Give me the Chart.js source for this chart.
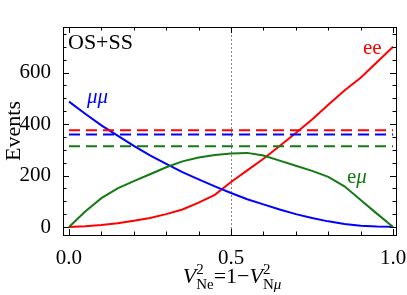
<!DOCTYPE html>
<html><head><meta charset="utf-8">
<script src="https://cdn.jsdelivr.net/npm/chart.js@4/dist/chart.umd.min.js"></script>
<style>html,body{margin:0;padding:0;background:#fff}canvas{display:block}</style>
</head><body>
<canvas id="c" width="407" height="295"></canvas>
<script>
const xs = [0,0.05,0.1,0.15,0.2,0.25,0.3,0.35,0.4,0.45,0.5,0.55,0.6,0.65,0.7,0.75,0.8,0.85,0.9,0.95,1.0];
const eeEvents   = [0,3,8,15,24,35,50,68,95,125,175,220,265,315,365,418,475,530,580,640,700];
const mumuEvents = [487,440,395,355,315,278,245,213,185,158,132,108,88,68,50,35,22,12,5,2,1];
const emuEvents  = [0,60,112,150,178,205,232,255,270,280,286,288,278,258,238,218,195,158,105,52,0];
const eeTotal = 376, mumuTotal = 359, emuTotal = 314;
const xTickValues = [0,0.5,1.0];
const yTickValues = [0,200,400,600];
const xMinorTicks = [0,0.1,0.2,0.3,0.4,0.5,0.6,0.7,0.8,0.9,1.0];
const yMinorTicks = [0,50,100,150,200,250,300,350,400,450,500,550,600,650,700,750];
const midLine = 0.5;

const RED='#ff0000', BLUE='#0000ff', GREEN='#147a14';
const FONT='"Liberation Serif", "DejaVu Serif", serif';

function curve(vals,color){
  return {data: xs.map((x,i)=>({x:x,y:vals[i]})), borderColor:color, borderWidth:2, pointRadius:0, fill:false, tension:0};
}
function flat(v,color){
  return {data:[{x:xs[0],y:v},{x:xs[xs.length-1],y:v}], borderColor:color, borderWidth:2, borderDash:[11,6], pointRadius:0, fill:false};
}

const framePlugin = {
  id:'frame',
  beforeDatasetsDraw(chart){
    const {ctx, chartArea:{top,bottom}, scales:{x}} = chart;
    const px = Math.round(x.getPixelForValue(midLine))+0.5;
    ctx.save(); ctx.strokeStyle='#888'; ctx.lineWidth=1; ctx.setLineDash([2,2]);
    ctx.beginPath(); ctx.moveTo(px,top); ctx.lineTo(px,bottom); ctx.stroke(); ctx.restore();
  },
  afterDatasetsDraw(chart){
    const {ctx, chartArea:{left,right,top,bottom}, scales:{x,y}} = chart;
    ctx.save(); ctx.strokeStyle='#000'; ctx.lineWidth=1;
    ctx.strokeRect(Math.round(left)+0.5, Math.round(top)+0.5, Math.round(right-left), Math.round(bottom-top));
    ctx.beginPath();
    xMinorTicks.forEach(v=>{
      const p = Math.round(x.getPixelForValue(v))+0.5;
      const L = xTickValues.includes(v)?6:3.5;
      ctx.moveTo(p,bottom); ctx.lineTo(p,bottom-L);
      ctx.moveTo(p,top); ctx.lineTo(p,top+L);
    });
    yMinorTicks.forEach(v=>{
      const p = Math.round(y.getPixelForValue(v))+0.5;
      const L = yTickValues.includes(v)?6:3.5;
      ctx.moveTo(left,p); ctx.lineTo(left+L,p);
      ctx.moveTo(right,p); ctx.lineTo(right-L,p);
    });
    ctx.stroke(); ctx.restore();
  },
  afterDraw(chart){
    const {ctx} = chart;
    ctx.save();
    ctx.textBaseline='alphabetic';
    ctx.fillStyle='#000'; ctx.font='22px '+FONT; ctx.fillText('OS+SS',68,49);
    ctx.font='21px '+FONT;
    ctx.fillStyle=RED; ctx.fillText('ee',363,54);
    ctx.fillStyle=BLUE; ctx.font='italic 21px '+FONT; ctx.fillText('μμ',87,103);
    ctx.fillStyle=GREEN; ctx.font='21px '+FONT; ctx.fillText('e',347,183);
    let w = ctx.measureText('e').width; ctx.font='italic 21px '+FONT; ctx.fillText('μ',347+w,183);
    ctx.fillStyle='#000'; ctx.font='22px '+FONT;
    ctx.save(); ctx.translate(20,131); ctx.rotate(-Math.PI/2); ctx.textAlign='center'; ctx.fillText('Events',0,0); ctx.restore();
    const parts=[
      {t:'V',f:'italic 22px',dy:0},{t:'2',f:'15px',dy:-9,sup:true},{t:'Ne',f:'15px',dy:6,sub:true},
      {t:'=1−',f:'22px',dy:0},
      {t:'V',f:'italic 22px',dy:0},{t:'2',f:'15px',dy:-9,sup:true},{t:'N',f:'15px',dy:6,sub:true},{t:'μ',f:'italic 15px',dy:6,sub:true,cont:true}
    ];
    function layout(draw,x0,base){
      let x=x0, supStart=null, supW=0;
      parts.forEach(p=>{
        ctx.font=p.f+' '+FONT;
        const pw=ctx.measureText(p.t).width;
        if(p.sup){ supStart=x; if(draw) ctx.fillText(p.t,x,base+p.dy); supW=pw; }
        else if(p.sub){
          if(!p.cont && supStart!==null){ x=supStart; }
          if(draw) ctx.fillText(p.t,x,base+p.dy);
          x+=pw;
        } else {
          if(supStart!==null){ x=Math.max(x,supStart+supW); supStart=null; }
          if(draw) ctx.fillText(p.t,x,base+p.dy); x+=pw;
        }
      });
      if(supStart!==null){ x=Math.max(x,supStart+supW); }
      return x-x0;
    }
    const tw=layout(false,0,0);
    layout(true,232-tw/2,283);
    ctx.restore();
  }
};

new Chart(document.getElementById('c'),{
  type:'line',
  data:{datasets:[
    flat(eeTotal,RED), flat(mumuTotal,BLUE), flat(emuTotal,GREEN),
    curve(emuEvents,GREEN), curve(mumuEvents,BLUE), curve(eeEvents,RED)
  ]},
  options:{
    responsive:false, devicePixelRatio:1, animation:false,
    layout:{padding:{top:27,right:11,left:0,bottom:0}},
    plugins:{legend:{display:false},tooltip:{enabled:false}},
    scales:{
      x:{type:'linear',min:-0.0185,max:1.009,
        afterBuildTicks:s=>{s.ticks=xTickValues.map(v=>({value:v}));},
        afterFit:s=>{s.height=60; s.paddingLeft=0; s.paddingRight=0;},
        grid:{display:false}, border:{display:false},
        ticks:{callback:v=>Number(v).toFixed(1),color:'#000',font:{family:FONT,size:21},padding:3,maxRotation:0,autoSkip:false}},
      y:{type:'linear',min:-31,max:777,
        afterBuildTicks:s=>{s.ticks=yTickValues.map(v=>({value:v}));},
        afterFit:s=>{s.width=63; s.paddingTop=0; s.paddingBottom=0;},
        grid:{display:false}, border:{display:false},
        ticks:{callback:v=>String(v),color:'#000',font:{family:FONT,size:21},padding:4,autoSkip:false}}
    }
  },
  plugins:[framePlugin]
});
</script>
</body></html>
